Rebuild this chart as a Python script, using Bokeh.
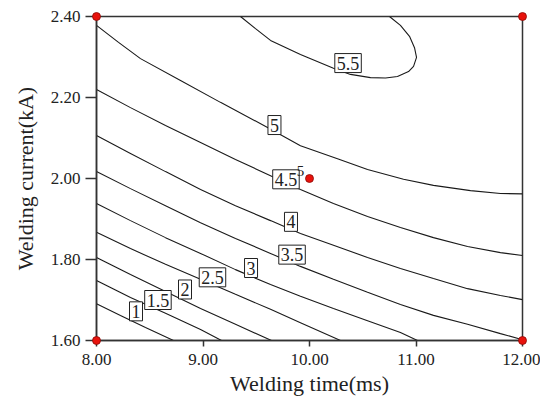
from bokeh.plotting import figure
from bokeh.models import FixedTicker, ColumnDataSource
from bokeh.embed import file_html
from bokeh.resources import INLINE
from bokeh.core.properties import value

# ---- axis ticks ----
x_ticks = [8, 9, 10, 11, 12]
x_tick_labels = ["8.00", "9.00", "10.00", "11.00", "12.00"]
y_ticks = [1.6, 1.8, 2.0, 2.2, 2.4]
y_tick_labels = ["1.60", "1.80", "2.00", "2.20", "2.40"]

# ---- contour lines ----
c1_x = [8.0, 8.225, 8.460, 8.723]
c1_y = [1.691, 1.662, 1.632, 1.600]
c15_x = [8.0, 8.319, 8.648, 8.977, 9.174]
c15_y = [1.748, 1.706, 1.667, 1.627, 1.600]
c2_x = [8.0, 8.319, 8.648, 8.977, 9.305, 9.643]
c2_y = [1.805, 1.763, 1.721, 1.679, 1.640, 1.600]
c25_x = [8.0, 8.319, 8.648, 8.977, 9.305, 9.634, 9.915, 10.291]
c25_y = [1.867, 1.827, 1.788, 1.751, 1.714, 1.677, 1.644, 1.600]
c3_x = [8.0, 8.319, 8.648, 8.977, 9.305, 9.634, 9.915, 10.225, 10.545, 10.854, 11.014]
c3_y = [1.938, 1.896, 1.854, 1.815, 1.775, 1.738, 1.709, 1.679, 1.649, 1.620, 1.600]
c35_x = [8.0, 8.319, 8.648, 8.977, 9.305, 9.634, 9.915, 10.225, 10.545, 10.854, 11.164, 11.484, 11.793, 12.0]
c35_y = [2.017, 1.975, 1.933, 1.891, 1.852, 1.815, 1.783, 1.751, 1.719, 1.689, 1.662, 1.640, 1.617, 1.602]
c4_x = [8.0, 8.319, 8.648, 8.977, 9.305, 9.634, 9.915, 10.225, 10.545, 10.854, 11.164, 11.484, 11.793, 12.0]
c4_y = [2.106, 2.062, 2.017, 1.973, 1.933, 1.896, 1.864, 1.835, 1.805, 1.778, 1.753, 1.728, 1.711, 1.701]
c45_x = [8.0, 8.319, 8.648, 8.977, 9.305, 9.634, 9.915, 10.225, 10.545, 10.854, 11.164, 11.484, 11.793, 12.0]
c45_y = [2.220, 2.175, 2.131, 2.089, 2.047, 2.007, 1.973, 1.938, 1.906, 1.879, 1.854, 1.832, 1.817, 1.810]
c5_x = [8.0, 8.207, 8.413, 8.789, 9.164, 9.606, 9.915, 10.263, 10.545, 10.883, 11.164, 11.512, 11.793, 12.0]
c5_y = [2.378, 2.336, 2.296, 2.242, 2.188, 2.126, 2.081, 2.049, 2.022, 1.998, 1.983, 1.970, 1.963, 1.962]
c55_x = [9.352, 9.493, 9.634, 9.915, 10.225, 10.385, 10.573, 10.714, 10.826, 10.930, 10.977, 11.005, 10.986, 10.939, 10.854, 10.751]
c55_y = [2.400, 2.370, 2.341, 2.306, 2.272, 2.257, 2.249, 2.248, 2.252, 2.264, 2.277, 2.299, 2.323, 2.351, 2.378, 2.400]

contours_x = [c1_x, c15_x, c2_x, c25_x, c3_x, c35_x, c4_x, c45_x, c5_x, c55_x]
contours_y = [c1_y, c15_y, c2_y, c25_y, c3_y, c35_y, c4_y, c45_y, c5_y, c55_y]

# ---- contour labels ----
label_text = ["1", "1.5", "2", "2.5", "3", "3.5", "4", "4.5", "5", "5.5"]
label_x = [8.371, 8.577, 8.831, 9.089, 9.451, 9.836, 9.826, 9.779, 9.671, 10.362]
label_y = [1.672, 1.700, 1.726, 1.756, 1.779, 1.812, 1.893, 1.998, 2.132, 2.285]

# ---- design points ----
design_x = [8, 8, 12, 12, 10]
design_y = [1.6, 2.4, 1.6, 2.4, 2.0]
center_count_x = [9.915]
center_count_y = [2.019]
center_count_text = ["5"]

SERIF = "Liberation Serif"
AX = "#333333"

p = figure(width=540, height=400, x_range=(8, 12), y_range=(1.6, 2.4),
           output_backend="svg", toolbar_location=None,
           min_border_left=96, min_border_right=18, min_border_top=16, min_border_bottom=60)
p.background_fill_color = "white"
p.border_fill_color = "white"
p.xgrid.visible = False
p.ygrid.visible = False
p.outline_line_color = AX
p.outline_line_width = 1.5
p.outline_line_alpha = 1.0

p.xaxis.ticker = FixedTicker(ticks=x_ticks)
p.yaxis.ticker = FixedTicker(ticks=y_ticks)
p.xaxis.major_label_overrides = {t: l for t, l in zip(x_ticks, x_tick_labels)}
p.yaxis.major_label_overrides = {t: l for t, l in zip(y_ticks, y_tick_labels)}
for ax in (p.xaxis[0], p.yaxis[0]):
    ax.axis_line_color = AX
    ax.axis_line_width = 1.5
    ax.major_tick_line_color = AX
    ax.major_tick_line_width = 1.5
    ax.major_tick_in = 0
    ax.minor_tick_line_color = None
    ax.major_label_text_font = SERIF
    ax.major_label_text_font_size = "17px"
    ax.major_label_text_color = "#222222"
    ax.axis_label_text_font = SERIF
    ax.axis_label_text_font_size = "22px"
    ax.axis_label_text_font_style = "normal"
    ax.axis_label_text_color = "#222222"
p.xaxis.major_tick_out = 6
p.yaxis.major_tick_out = 11
p.xaxis.major_label_standoff = 7
p.yaxis.major_label_standoff = 5
p.xaxis.axis_label_standoff = 3
p.yaxis.axis_label_standoff = 10
p.xaxis.axis_label = "Welding time(ms)"
p.yaxis.axis_label = "Welding current(kA)"

p.multi_line(xs=contours_x, ys=contours_y, line_color="#1a1a1a", line_width=1.1)

src = ColumnDataSource(dict(x=label_x, y=label_y, t=label_text))
p.text(x="x", y="y", text="t", source=src, text_font=value(SERIF), text_font_size="18px",
       text_align="center", text_baseline="middle", text_color="#222222",
       background_fill_color="white", border_line_color="#222222", border_line_width=1,
       padding=(2, 3))

p.text(x=center_count_x, y=center_count_y, text=center_count_text, text_font=value(SERIF),
       text_font_size="15px", text_align="center", text_baseline="middle", text_color="#222222")

dots = p.scatter(x=design_x, y=design_y, marker="circle", size=8, fill_color="#e8120c",
                 line_color="#8a0a06", line_width=0.8)
dots.level = "overlay"

open("out.html", "w").write(file_html(p, INLINE))
